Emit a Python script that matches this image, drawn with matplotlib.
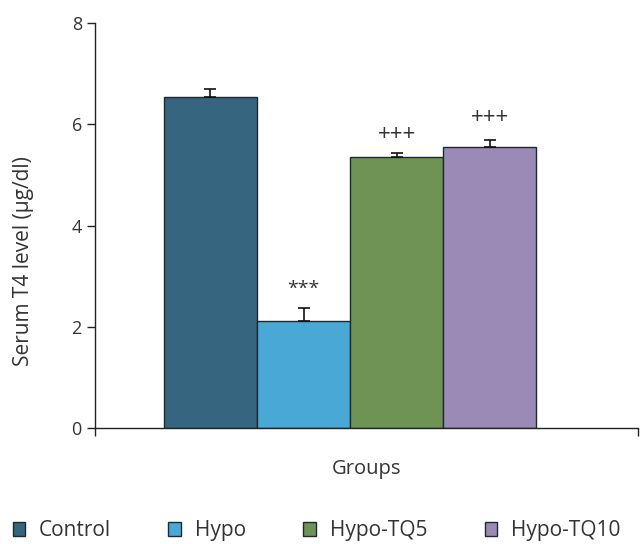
import matplotlib
matplotlib.use('Agg')
import matplotlib.pyplot as plt
from matplotlib.patches import Patch

plt.rcParams['font.family'] = ['Open Sans', 'DejaVu Sans']

groups = ['Control', 'Hypo', 'Hypo-TQ5', 'Hypo-TQ10']
t4_mean = [6.54, 2.11, 5.36, 5.55]
t4_sem = [0.16, 0.26, 0.08, 0.14]
marks = ['', '***', '+++', '+++']
mark_y = [None, 2.74, 5.79, 6.13]
colors = ['#35657f', '#4aa8d6', '#6e9455', '#9a8bb6']

TEXT = '#333333'
EDGE = '#1e2a30'

fig = plt.figure(figsize=(6.4, 5.44), dpi=100)
ax = fig.add_axes([0.1484, 0.2132, 0.8486, 0.7445])

x = list(range(len(groups)))
ax.bar(x, t4_mean, width=1.0, color=colors, edgecolor=EDGE, linewidth=1.0, zorder=2)
ax.errorbar(x, t4_mean, yerr=[[0] * len(t4_sem), t4_sem], fmt='none',
            ecolor='#111111', elinewidth=1.2, capsize=4, capthick=1.2, zorder=3)

for xi, lab, yy in zip(x, marks, mark_y):
    if lab:
        size = 16 if lab.startswith('+') else 14
        ax.text(xi, yy, lab, ha='center', va='center', fontsize=size, color=TEXT)

ax.set_xlim(-1.242, 4.597)
ax.set_ylim(0, 8)
ax.set_yticks([0, 2, 4, 6, 8])
ax.set_xticks([-1.242, 4.597])
ax.set_xticklabels(['', ''])
ax.tick_params(axis='y', labelsize=13, labelcolor=TEXT, length=6, width=1, color='#222222')
ax.tick_params(axis='x', length=6, width=1, color='#222222')
for side in ['top', 'right']:
    ax.spines[side].set_visible(False)
for side in ['left', 'bottom']:
    ax.spines[side].set_color('#222222')
    ax.spines[side].set_linewidth(1.0)

ax.set_ylabel('Serum T4 level (μg/dl)', fontsize=15, color=TEXT)
ax.yaxis.set_label_coords(-0.112, 0.412)
ax.set_xlabel('Groups', fontsize=14.5, color=TEXT, labelpad=13)

handles = [Patch(facecolor=c, edgecolor=EDGE, linewidth=1.0) for c in colors]
fig.legend(handles, groups, loc='center left', bbox_to_anchor=(0.0, 0.024),
           ncol=4, frameon=False, fontsize=15, handlelength=0.6, handleheight=0.6,
           handletextpad=0.67, columnspacing=2.75, labelcolor=TEXT, borderaxespad=0.2)

fig.savefig('out.png', dpi=100)
